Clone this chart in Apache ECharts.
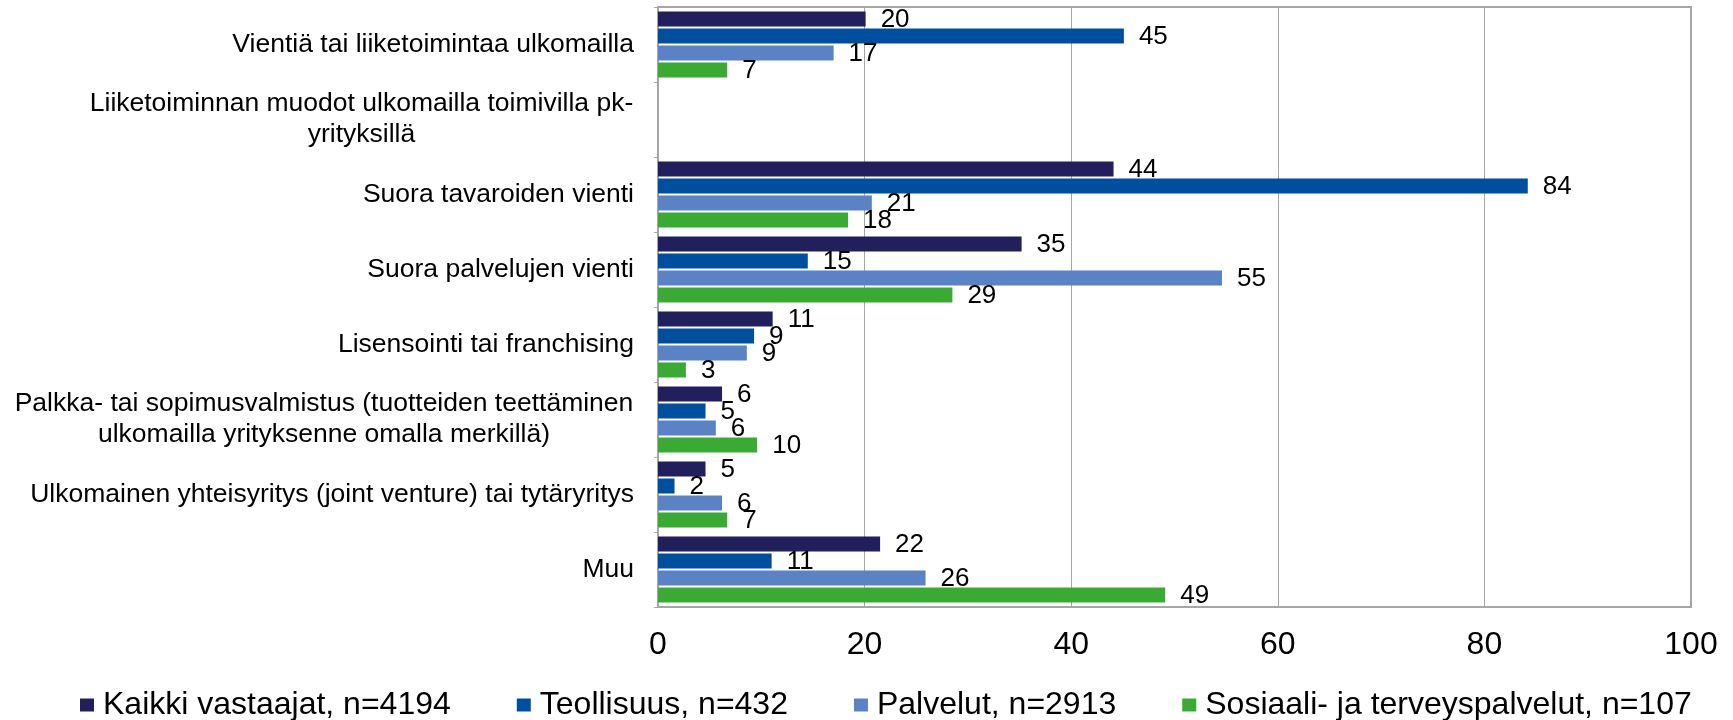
<!DOCTYPE html>
<html>
<head>
<meta charset="utf-8">
<script src="https://cdn.jsdelivr.net/npm/echarts@6/dist/echarts.min.js"></script>
<style>
html,body{margin:0;padding:0;background:#fff;}
#c{width:1733px;height:720px;}
</style>
</head>
<body>
<div id="c"></div>
<script>
// ---- data ----
const categories = [
  'Vientiä tai liiketoimintaa ulkomailla',
  'Liiketoiminnan muodot ulkomailla toimivilla pk-\nyrityksillä',
  'Suora tavaroiden vienti',
  'Suora palvelujen vienti',
  'Lisensointi tai franchising',
  'Palkka- tai sopimusvalmistus (tuotteiden teettäminen\nulkomailla yrityksenne omalla merkillä)',
  'Ulkomainen yhteisyritys (joint venture) tai tytäryritys',
  'Muu'
];
const seriesNames = [
  'Kaikki vastaajat, n=4194',
  'Teollisuus, n=432',
  'Palvelut, n=2913',
  'Sosiaali- ja terveyspalvelut, n=107'
];
const kaikki   = [20.1, null, 44.1, 35.2, 11.1, 6.2, 4.6, 21.5];
const teoll    = [45.1, null, 84.2, 14.5, 9.3, 4.6, 1.6, 11.0];
const palvelut = [17.0, null, 20.7, 54.6, 8.6, 5.6, 6.2, 25.9];
const sote     = [6.7, null, 18.4, 28.5, 2.7, 9.6, 6.7, 49.1];
const xTicks = [0, 20, 40, 60, 80, 100];

const colors = ['#211F5C', '#004F9F', '#5B82C4', '#3BAA35'];
const FONT = "'Liberation Sans', Arial, sans-serif";
const CAT_FS = 26.5;

// measure widths for centered multi-line labels
const cv = document.createElement('canvas').getContext('2d');
cv.font = CAT_FS + 'px ' + FONT;
function lineW(s){ return Math.ceil(cv.measureText(s).width) + 1; }

const richStyles = { s: { fontSize: CAT_FS, fontFamily: FONT, color: '#000', lineHeight: 31 } };
let richIdx = 0;
const labelMap = {};
categories.forEach(c => {
  if (c.indexOf('\n') >= 0) {
    const lines = c.split('\n');
    const w = Math.max.apply(null, lines.map(lineW));
    const key = 'm' + (richIdx++);
    richStyles[key] = { width: w, align: 'center', fontSize: CAT_FS, fontFamily: FONT, color: '#000', lineHeight: 31 };
    labelMap[c] = lines.map(l => '{' + key + '|' + l + '}').join('\n');
  } else {
    labelMap[c] = '{s|' + c + '}';
  }
});

const allData = [kaikki, teoll, palvelut, sote];
const series = allData.map((d, i) => ({
  name: seriesNames[i],
  type: 'bar',
  data: d,
  barGap: '13%',
  barCategoryGap: '12%',
  itemStyle: { color: colors[i] },
  label: {
    show: true,
    position: 'right',
    distance: 15,
    offset: [0, 1],
    fontSize: 26,
    fontFamily: FONT,
    color: '#000',
    formatter: p => (p.value == null ? '' : String(Math.round(p.value)))
  }
}));

const chart = echarts.init(document.getElementById('c'), null, { renderer: 'canvas' });
chart.setOption({
  animation: false,
  backgroundColor: '#fff',
  color: colors,
  grid: {
    left: 658, right: 42, top: 7, bottom: 113,
    show: true, borderColor: '#A6A6A6', borderWidth: 2, backgroundColor: 'transparent'
  },
  xAxis: {
    type: 'value',
    min: xTicks[0], max: xTicks[xTicks.length - 1], interval: 20,
    axisLine: { show: true, lineStyle: { color: '#A6A6A6', width: 2 } },
    axisTick: { show: false },
    splitLine: { show: true, lineStyle: { color: '#A6A6A6', width: 1 } },
    axisLabel: { fontSize: 32, fontFamily: FONT, color: '#000', margin: 22 }
  },
  yAxis: {
    type: 'category',
    inverse: true,
    data: categories,
    axisLine: { show: true, lineStyle: { color: '#A6A6A6', width: 2 } },
    axisTick: { show: true, length: 4, lineStyle: { color: '#A6A6A6' } },
    axisLabel: {
      margin: 24,
      formatter: v => labelMap[v],
      rich: richStyles
    }
  },
  legend: {
    data: seriesNames,
    left: 75,
    top: 684,
    itemWidth: 14,
    itemHeight: 13,
    itemGap: 66,
    icon: 'rect',
    textStyle: { fontSize: 32, fontFamily: FONT, color: '#000', padding: [0, 0, 0, 4] }
  },
  series: series
});
</script>
</body>
</html>
